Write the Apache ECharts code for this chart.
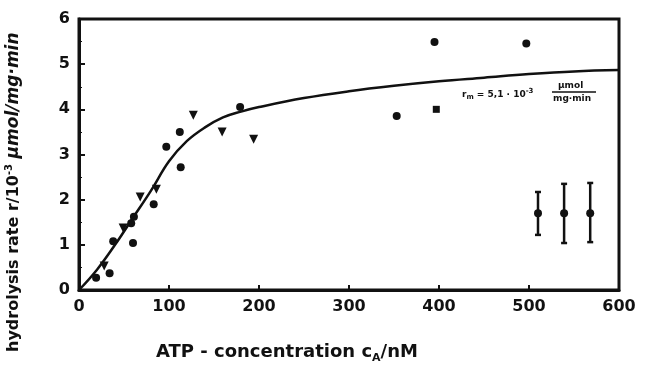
<!DOCTYPE html>
<html>
<head>
<meta charset="utf-8">
<script src="https://cdn.jsdelivr.net/npm/echarts@6/dist/echarts.min.js"></script>
<style>
  html, body { margin: 0; padding: 0; background: #fff; }
  #chart { width: 650px; height: 374px; }
</style>
</head>
<body>
<div id="chart"></div>
<script>
// measured points (nM, 10^-3 µmol/mg·min)
const circlePts = [
  [19, 0.27], [34, 0.37], [38, 1.08], [60, 1.04], [58, 1.48], [61, 1.62],
  [83, 1.9], [97, 3.17], [113, 2.72], [112, 3.5], [179, 4.05], [353, 3.85],
  [395, 5.49], [497, 5.46]
]
const trianglePts = [
  [28, 0.53], [49, 1.37], [68, 2.06], [86, 2.23], [127, 3.87], [159, 3.5], [194, 3.34]
]
const squarePts = [[397, 4.0]]

// fitted curve
const curveX = [0, 20, 40, 60, 80, 100, 120, 140, 160, 180, 200, 250, 300, 350, 400, 450, 500, 550, 600]
const curveY = [0, 0.45, 1.0, 1.6, 2.2, 2.85, 3.3, 3.6, 3.82, 3.95, 4.05, 4.25, 4.4, 4.52, 4.62, 4.7, 4.78, 4.84, 4.87]

// error bars in the lower right
const errX = [510, 539, 568]
const errMid = [1.7, 1.7, 1.7]
const errLow = [1.22, 1.04, 1.06]
const errHigh = [2.17, 2.35, 2.37]

const xTicks = [0, 100, 200, 300, 400, 500, 600]
const yTicks = [0, 1, 2, 3, 4, 5, 6]

const chart = echarts.init(document.getElementById("chart"))
const ink = "#111"
const font = "DejaVu Sans"

const option = {
  animation: false,
  backgroundColor: "#fff",
  grid: { left: 79, right: 31, top: 19, bottom: 84, show: true, borderColor: ink, borderWidth: 3 },
  xAxis: {
    type: "value",
    min: xTicks[0],
    max: xTicks[xTicks.length - 1],
    interval: 100,
    axisLine: { lineStyle: { color: ink, width: 3 } },
    axisTick: { inside: true, length: 5, lineStyle: { color: ink, width: 2 } },
    splitLine: { show: false },
    axisLabel: { color: ink, fontSize: 16, fontWeight: "bold", fontFamily: font, margin: 9 },
  },
  yAxis: {
    type: "value",
    min: yTicks[0],
    max: yTicks[yTicks.length - 1],
    interval: 1,
    axisLine: { lineStyle: { color: ink, width: 3 } },
    axisTick: { inside: true, length: 6, lineStyle: { color: ink, width: 2 } },
    minorTick: { show: true, splitNumber: 2, length: 3, lineStyle: { color: ink, width: 1 } },
    splitLine: { show: false },
    axisLabel: { color: ink, fontSize: 16, fontWeight: "bold", fontFamily: font, margin: 9 },
  },
  series: [
    {
      type: "line",
      data: curveX.map((x, i) => [x, curveY[i]]),
      smooth: 0.4,
      showSymbol: false,
      lineStyle: { color: ink, width: 2.5 },
      z: 2,
    },
    {
      type: "scatter",
      data: circlePts,
      symbol: "circle",
      symbolSize: 8,
      itemStyle: { color: ink, opacity: 1 },
      z: 3,
    },
    {
      type: "scatter",
      data: trianglePts,
      symbol: "triangle",
      symbolRotate: 180,
      symbolSize: 9,
      itemStyle: { color: ink, opacity: 1 },
      z: 3,
    },
    {
      type: "scatter",
      data: squarePts,
      symbol: "rect",
      symbolSize: 7,
      itemStyle: { color: ink, opacity: 1 },
      z: 3,
    },
    {
      type: "custom",
      data: errX.map((x, i) => [x, errMid[i], errLow[i], errHigh[i]]),
      renderItem: function (params, api) {
        const top = api.coord([api.value(0), api.value(3)])
        const bot = api.coord([api.value(0), api.value(2)])
        const mid = api.coord([api.value(0), api.value(1)])
        const st = { stroke: ink, lineWidth: 2.5 }
        return {
          type: "group",
          children: [
            { type: "line", shape: { x1: top[0], y1: top[1], x2: bot[0], y2: bot[1] }, style: st },
            { type: "line", shape: { x1: top[0] - 3, y1: top[1], x2: top[0] + 3, y2: top[1] }, style: st },
            { type: "line", shape: { x1: bot[0] - 3, y1: bot[1], x2: bot[0] + 3, y2: bot[1] }, style: st },
            { type: "circle", shape: { cx: mid[0], cy: mid[1], r: 4 }, style: { fill: ink } },
          ],
        }
      },
      z: 3,
    },
  ],
  graphic: [
    {
      type: "text",
      left: 156,
      top: 343,
      style: {
        text: "ATP - concentration c{s|A}/nM",
        font: "bold 18px DejaVu Sans",
        fill: ink,
        rich: { s: { font: "bold 11px DejaVu Sans", fill: ink, padding: [12, 0, 0, 0] } },
      },
    },
    {
      type: "text",
      x: 4,
      y: 352,
      rotation: Math.PI / 2,
      style: {
        text: "hydrolysis rate r/10{sup|-3} {i|µmol/mg·min}",
        font: "bold 16px DejaVu Sans",
        fill: ink,
        rich: {
          sup: { font: "bold 10px DejaVu Sans", fill: ink, padding: [0, 0, 10, 0] },
          i: { font: "italic bold 17px DejaVu Sans", fill: ink },
        },
      },
    },
    {
      type: "text",
      left: 462,
      top: 88,
      style: {
        text: "r{sub|m} = 5,1 · 10{sup|-3}",
        font: "bold 9px DejaVu Sans",
        fill: ink,
        rich: {
          sub: { font: "bold 7px DejaVu Sans", fill: ink, padding: [6, 0, 0, 0] },
          sup: { font: "bold 7px DejaVu Sans", fill: ink, padding: [0, 0, 6, 0] },
        },
      },
    },
    {
      type: "text",
      left: 558,
      top: 81,
      style: { text: "µmol", font: "bold 9px DejaVu Sans", fill: ink },
    },
    {
      type: "line",
      shape: { x1: 552, y1: 92, x2: 596, y2: 92 },
      style: { stroke: ink, lineWidth: 1.5 },
    },
    {
      type: "text",
      left: 553,
      top: 94,
      style: { text: "mg·min", font: "bold 9px DejaVu Sans", fill: ink },
    },
  ],
}

option && chart.setOption(option)
</script>
</body>
</html>
